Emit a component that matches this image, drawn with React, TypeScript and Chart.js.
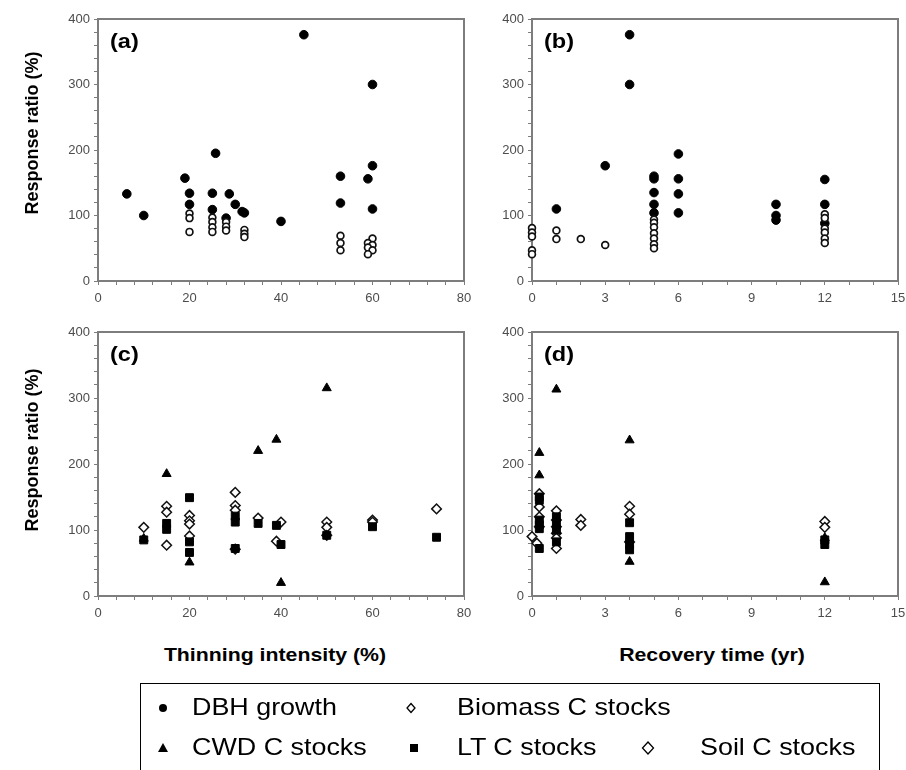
import React, { useEffect, useRef } from 'react';
import { Chart, registerables } from 'chart.js';

Chart.register(...registerables);

type Pt = [number, number];

// Panel (a): response vs thinning intensity (%)
const A_DBH: Pt[] = [
  [6.3, 133], [10, 100], [19, 157], [20, 134], [20, 117], [25.7, 195], [25, 134], [25, 109],
  [28.7, 133], [28, 96], [30, 117], [31.5, 106], [32, 104], [40, 91], [45, 376], [53, 160],
  [53, 119], [59, 156], [60, 300], [60, 176], [60, 110],
];
const A_BIOMASS: Pt[] = [
  [20, 103], [20, 96], [20, 75], [25, 97], [25, 90], [25, 82], [25, 75], [28, 90], [28, 83],
  [28, 77], [32, 78], [32, 72], [32, 67], [53, 69], [53, 58], [53, 47], [60, 65], [59, 58],
  [60, 55], [59, 51], [60, 47], [59, 41],
];

// Panel (b): response vs recovery time (yr)
const B_DBH: Pt[] = [
  [1, 110], [3, 176], [4, 376], [4, 300], [5, 160], [5, 156], [5, 135], [5, 117], [5, 104],
  [6, 194], [6, 156], [6, 133], [6, 104], [10, 117], [10, 100], [10, 93], [12, 155], [12, 117], [12, 88],
];
const B_BIOMASS: Pt[] = [
  [0, 81], [0, 74], [0, 68], [0, 47], [0, 41], [1, 77], [1, 64], [2, 64], [3, 55], [5, 94],
  [5, 89], [5, 82], [5, 73], [5, 65], [5, 56], [5, 50], [12, 102], [12, 96], [12, 80], [12, 74],
  [12, 65], [12, 58],
];

// Panel (c): response vs thinning intensity (%)
const C_CWD: Pt[] = [[10, 87], [15, 185], [20, 51], [35, 220], [39, 237], [40, 20], [50, 315]];
const C_LT: Pt[] = [
  [10, 85], [15, 110], [15, 101], [20, 149], [20, 82], [20, 66], [30, 121], [30, 112], [30, 72],
  [35, 110], [39, 107], [40, 78], [50, 92], [60, 105], [74, 89],
];
const C_SOIL: Pt[] = [
  [10, 104], [15, 136], [15, 127], [15, 77], [20, 122], [20, 114], [20, 109], [20, 91], [30, 157],
  [30, 137], [30, 130], [30, 71], [35, 118], [39, 83], [40, 112], [50, 112], [50, 104], [50, 92],
  [60, 115], [60, 112], [74, 132],
];

// Panel (d): response vs recovery time (yr)
const D_CWD: Pt[] = [[0.3, 217], [0.3, 183], [1, 313], [4, 236], [4, 52], [12, 88], [12, 21]];
const D_LT: Pt[] = [
  [0.3, 150], [0.3, 145], [0.3, 115], [0.3, 108], [0.3, 102], [0.3, 72], [1, 120], [1, 108],
  [1, 100], [1, 82], [4, 111], [4, 90], [4, 78], [4, 70], [12, 85], [12, 78],
];
const D_SOIL: Pt[] = [
  [0.3, 155], [0.3, 135], [0.3, 120], [0.3, 105], [0, 90], [0.2, 80], [1, 129], [1, 115], [1, 105],
  [1, 95], [1, 88], [1, 72], [2, 116], [2, 107], [4, 136], [4, 124], [4, 82], [12, 113], [12, 104],
];

const Y_MAX = 400;
const Y_STEP = 20;
const Y_MAJOR = 100;

const SERIES_NAMES = ['DBH growth', 'Biomass C stocks', 'CWD C stocks', 'LT C stocks', 'Soil C stocks'];

const toPts = (p: Pt[]) => p.map(([x, y]) => ({ x, y }));

const dbhStyle = (d: Pt[]) => ({
  label: SERIES_NAMES[0], data: toPts(d), pointStyle: 'circle', pointRadius: 4.3,
  pointBackgroundColor: '#000', pointBorderColor: '#000', pointBorderWidth: 1, clip: false,
});
const biomassStyle = (d: Pt[]) => ({
  label: SERIES_NAMES[1], data: toPts(d), pointStyle: 'circle', pointRadius: 3.4,
  pointBackgroundColor: '#fff', pointBorderColor: '#111', pointBorderWidth: 1.7, clip: false,
});
const cwdStyle = (d: Pt[]) => ({
  label: SERIES_NAMES[2], data: toPts(d), pointStyle: 'triangle', pointRadius: 5.2,
  pointBackgroundColor: '#000', pointBorderColor: '#000', pointBorderWidth: 1, clip: false,
});
const ltStyle = (d: Pt[]) => ({
  label: SERIES_NAMES[3], data: toPts(d), pointStyle: 'rect', pointRadius: 5.6,
  pointBackgroundColor: '#000', pointBorderColor: '#000', pointBorderWidth: 1, clip: false,
});
const soilStyle = (d: Pt[]) => ({
  label: SERIES_NAMES[4], data: toPts(d), pointStyle: 'rectRot', pointRadius: 4.8,
  pointBackgroundColor: '#fff', pointBorderColor: '#111', pointBorderWidth: 1.5, clip: false,
});

const framePlugin = {
  id: 'frame',
  beforeDatasetsDraw(chart: any) {
    const { ctx, chartArea: a } = chart;
    ctx.save();
    ctx.strokeStyle = '#7d7d7d';
    ctx.lineWidth = 2;
    ctx.strokeRect(a.left, a.top, a.right - a.left, a.bottom - a.top);
    ctx.restore();
  },
  afterDraw(chart: any, _args: any, opts: any) {
    const { ctx, chartArea: a } = chart;
    ctx.save();
    ctx.font = 'bold 21px Arial, "Liberation Sans", sans-serif';
    ctx.fillStyle = '#000';
    ctx.textBaseline = 'middle';
    ctx.textAlign = 'left';
    ctx.translate(a.left + 12, a.top + 23);
    ctx.scale(1.12, 1);
    ctx.fillText(opts.label, 0, 0);
    ctx.restore();
  },
};

const PAD_L = 60;
const PAD_T = 12;
const PAD_R = 18;
const PAD_B = 30;

type PanelProps = {
  left: number; top: number; plotW: number; plotH: number;
  xMax: number; xStep: number; xMajor: number; label: string; datasets: any[];
};

function Panel({ left, top, plotW, plotH, xMax, xStep, xMajor, label, datasets }: PanelProps) {
  const ref = useRef<HTMLCanvasElement>(null);
  const w = PAD_L + plotW + PAD_R;
  const h = PAD_T + plotH + PAD_B;
  useEffect(() => {
    if (!ref.current) return;
    const tickFont = { family: 'Arial, "Liberation Sans", sans-serif', size: 13 };
    const chart = new Chart(ref.current, {
      type: 'scatter',
      data: { datasets },
      options: {
        responsive: false,
        animation: false,
        events: [],
        layout: { padding: { left: 0, top: PAD_T, right: PAD_R, bottom: 0 } },
        plugins: {
          legend: { display: false },
          tooltip: { enabled: false },
          frame: { label },
        } as any,
        scales: {
          x: {
            type: 'linear', min: 0, max: xMax,
            afterFit: (s: any) => { s.height = PAD_B; },
            ticks: {
              stepSize: xStep, autoSkip: false, maxRotation: 0, minRotation: 0,
              callback: (v: any) => (Math.abs(Number(v) % xMajor) < 1e-6 ? String(v) : ''),
              color: '#4d4d4d', font: tickFont, padding: 6,
            },
            grid: { drawOnChartArea: false, drawTicks: true, tickLength: 4, tickColor: '#7d7d7d', tickWidth: 1 },
            border: { display: false },
          },
          y: {
            type: 'linear', min: 0, max: Y_MAX,
            afterFit: (s: any) => { s.width = PAD_L; },
            ticks: {
              stepSize: Y_STEP, autoSkip: false,
              callback: (v: any) => (Number(v) % Y_MAJOR === 0 ? String(v) : ''),
              color: '#4d4d4d', font: tickFont, padding: 4,
            },
            grid: { drawOnChartArea: false, drawTicks: true, tickLength: 4, tickColor: '#7d7d7d', tickWidth: 1 },
            border: { display: false },
          },
        },
      } as any,
      plugins: [framePlugin as any],
    });
    return () => chart.destroy();
  }, []);
  return (
    <canvas
      ref={ref}
      width={w}
      height={h}
      style={{ position: 'absolute', left: left - PAD_L, top: top - PAD_T, width: w, height: h }}
    />
  );
}

const FONT = 'Arial, "Liberation Sans", sans-serif';

function YTitle({ cx, cy }: { cx: number; cy: number }) {
  return (
    <div style={{
      position: 'absolute', left: cx, top: cy, transform: 'translate(-50%, -50%) rotate(-90deg)',
      font: `bold 18px ${FONT}`, whiteSpace: 'nowrap', color: '#000',
    }}>Response ratio (%)</div>
  );
}

function XTitle({ cx, cy, text }: { cx: number; cy: number; text: string }) {
  return (
    <div style={{
      position: 'absolute', left: cx, top: cy, transform: 'translate(-50%, -50%) scaleX(1.12)',
      font: `bold 19px ${FONT}`, whiteSpace: 'nowrap', color: '#000',
    }}>{text}</div>
  );
}

function LegendText({ x, cy, text }: { x: number; cy: number; text: string }) {
  return (
    <div style={{
      position: 'absolute', left: x, top: cy - 15, height: 30, lineHeight: '30px',
      font: `24px ${FONT}`, whiteSpace: 'nowrap', color: '#000',
      transform: 'scaleX(1.12)', transformOrigin: 'left center',
    }}>{text}</div>
  );
}

export default function App() {
  const LX = 98, RX = 532, PW = 366;
  const TY = 19, BY = 332, PH_T = 262, PH_B = 264;
  const row1 = 708, row2 = 748;
  return (
    <div style={{ position: 'fixed', left: 0, top: 0, width: 906, height: 770, overflow: 'hidden', background: '#fff' }}>
      <Panel left={LX} top={TY} plotW={PW} plotH={PH_T} xMax={80} xStep={4} xMajor={20} label="(a)"
        datasets={[biomassStyle(A_BIOMASS), dbhStyle(A_DBH)]} />
      <Panel left={RX} top={TY} plotW={PW} plotH={PH_T} xMax={15} xStep={1} xMajor={3} label="(b)"
        datasets={[biomassStyle(B_BIOMASS), dbhStyle(B_DBH)]} />
      <Panel left={LX} top={BY} plotW={PW} plotH={PH_B} xMax={80} xStep={4} xMajor={20} label="(c)"
        datasets={[cwdStyle(C_CWD), ltStyle(C_LT), soilStyle(C_SOIL)]} />
      <Panel left={RX} top={BY} plotW={PW} plotH={PH_B} xMax={15} xStep={1} xMajor={3} label="(d)"
        datasets={[cwdStyle(D_CWD), ltStyle(D_LT), soilStyle(D_SOIL)]} />

      <YTitle cx={32} cy={133} />
      <YTitle cx={32} cy={450} />
      <XTitle cx={275} cy={655} text="Thinning intensity (%)" />
      <XTitle cx={712} cy={655} text="Recovery time (yr)" />

      <div style={{
        position: 'absolute', left: 140, top: 683, width: 740, height: 100,
        border: '1.5px solid #000', boxSizing: 'border-box',
      }} />
      <svg width={906} height={770} style={{ position: 'absolute', left: 0, top: 0 }}>
        <circle cx={163} cy={row1} r={4} fill="#000" />
        <path d={`M411 ${row1 - 4.5} L415 ${row1} L411 ${row1 + 4.5} L407 ${row1} Z`} fill="#fff" stroke="#000" strokeWidth={1.3} />
        <path d={`M163 ${row2 - 5} L168 ${row2 + 4} L158 ${row2 + 4} Z`} fill="#000" />
        <rect x={410} y={row2 - 4} width={8} height={8} fill="#000" />
        <path d={`M648 ${row2 - 6} L653.5 ${row2} L648 ${row2 + 6} L642.5 ${row2} Z`} fill="#fff" stroke="#000" strokeWidth={1.3} />
      </svg>
      <LegendText x={192} cy={row1} text={SERIES_NAMES[0]} />
      <LegendText x={457} cy={row1} text={SERIES_NAMES[1]} />
      <LegendText x={192} cy={row2} text={SERIES_NAMES[2]} />
      <LegendText x={457} cy={row2} text={SERIES_NAMES[3]} />
      <LegendText x={700} cy={row2} text={SERIES_NAMES[4]} />
    </div>
  );
}
